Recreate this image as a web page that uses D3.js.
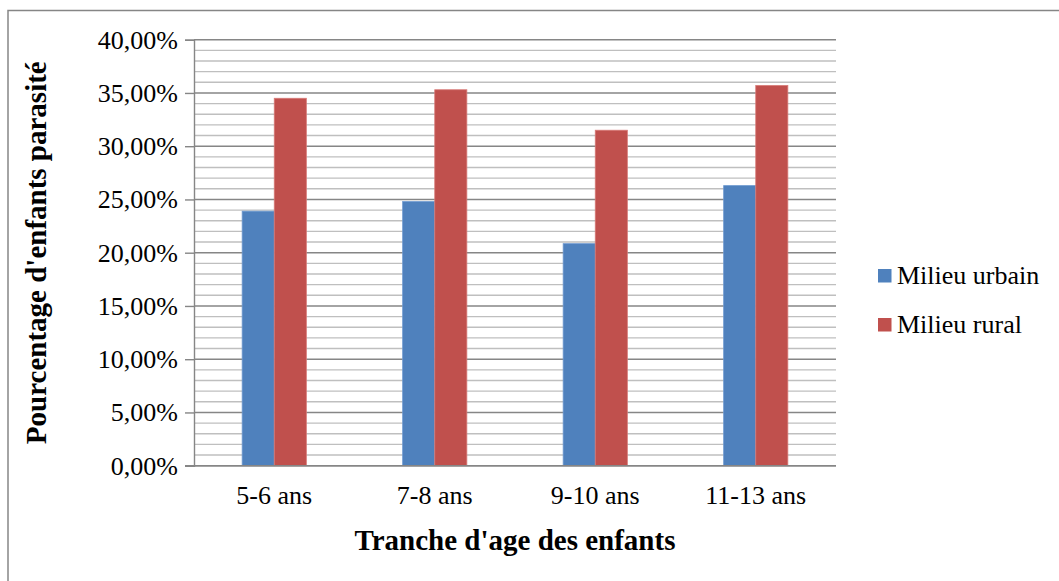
<!DOCTYPE html>
<html>
<head>
<meta charset="utf-8">
<script src="https://cdn.jsdelivr.net/npm/d3@7"></script>
<style>
  html, body { margin: 0; padding: 0; background: #fff; }
  svg { display: block; }
  svg text { font-family: "Liberation Serif", "Times New Roman", serif; }
</style>
</head>
<body>
<svg id="chart" width="1059" height="581"></svg>
<script>
// Age groups and infestation rates (%) by setting
const categories = ["5-6 ans", "7-8 ans", "9-10 ans", "11-13 ans"];
const seriesNames = ["Milieu urbain", "Milieu rural"];
const urbainValues = [23.9, 24.8, 20.85, 26.3];
const ruralValues = [34.5, 35.3, 31.5, 35.7];
const yTicks = [0, 5, 10, 15, 20, 25, 30, 35, 40];
const colors = ["#4F81BD", "#C0504D"];
const strokeColors = ["#6F9AD0", "#D87A77"];

const svg = d3.select("#chart");
const font = "Liberation Serif, Times New Roman, serif";

// Outer chart frame
svg.append("rect")
  .attr("x", 8).attr("y", 10.5)
  .attr("width", 1100).attr("height", 700)
  .attr("fill", "none").attr("stroke", "#868686").attr("stroke-width", 1.5);

const plot = { left: 194, right: 836, top: 39.7, bottom: 465.7 };

const y = d3.scaleLinear().domain([0, 40]).range([plot.bottom, plot.top]);
const x0 = d3.scaleBand().domain(categories).range([plot.left, plot.right]).paddingInner(0).paddingOuter(0);
const x1 = d3.scaleBand().domain(seriesNames).range([0, x0.bandwidth()]).paddingInner(0).paddingOuter(1.5);

// Minor gridlines every 1%
const minor = d3.range(1, 40).filter(v => v % 5 !== 0);
svg.append("g").selectAll("line").data(minor).join("line")
  .attr("x1", plot.left).attr("x2", plot.right)
  .attr("y1", d => y(d)).attr("y2", d => y(d))
  .attr("stroke", "#BFBFBF").attr("stroke-width", 1.4);

// Major gridlines every 5%
svg.append("g").selectAll("line").data(yTicks).join("line")
  .attr("x1", plot.left).attr("x2", plot.right)
  .attr("y1", d => y(d)).attr("y2", d => y(d))
  .attr("stroke", "#868686").attr("stroke-width", 1.4);

// Bars
const data = categories.map((c, i) => ({ cat: c, vals: [urbainValues[i], ruralValues[i]] }));
const groups = svg.append("g").selectAll("g").data(data).join("g")
  .attr("transform", d => `translate(${x0(d.cat)},0)`);
groups.selectAll("rect").data(d => d.vals.map((v, j) => ({ name: seriesNames[j], v, j })))
  .join("rect")
  .attr("x", d => x1(d.name))
  .attr("width", x1.bandwidth())
  .attr("y", d => y(d.v))
  .attr("height", d => y(0) - y(d.v))
  .attr("fill", d => colors[d.j])
  .attr("stroke", d => strokeColors[d.j])
  .attr("stroke-width", 0.8);

// Y axis
const yAxis = d3.axisLeft(y).tickValues(yTicks).tickSize(9).tickPadding(7)
  .tickFormat(d => d3.format(".2f")(d).replace(".", ",") + "%");
const yg = svg.append("g").attr("transform", `translate(${plot.left},0)`).call(yAxis)
  .attr("font-family", font).attr("font-size", 26);
yg.select(".domain").attr("stroke", "#868686").attr("stroke-width", 1.4);
yg.selectAll(".tick line").attr("stroke", "#868686").attr("stroke-width", 1.4);
yg.selectAll(".tick text").attr("fill", "#000");

// X axis
svg.append("line")
  .attr("x1", plot.left - 9).attr("x2", plot.right)
  .attr("y1", y(0)).attr("y2", y(0))
  .attr("stroke", "#868686").attr("stroke-width", 1.4);
const xAxis = d3.axisBottom(x0).tickSize(0).tickPadding(20);
const xg = svg.append("g").attr("transform", `translate(0,${y(0)})`).call(xAxis)
  .attr("font-family", font).attr("font-size", 26);
xg.select(".domain").remove();
xg.selectAll(".tick text").attr("fill", "#000");

// Axis titles
svg.append("text")
  .attr("x", (plot.left + plot.right) / 2).attr("y", 550)
  .attr("text-anchor", "middle")
  .attr("font-size", 29).attr("font-weight", "bold")
  .text("Tranche d'age des enfants");
svg.append("text")
  .attr("transform", `translate(46,${(plot.top + plot.bottom) / 2}) rotate(-90)`)
  .attr("text-anchor", "middle")
  .attr("font-size", 29).attr("font-weight", "bold")
  .text("Pourcentage d'enfants parasité");

// Legend
const legend = svg.append("g").attr("transform", "translate(878,269)");
const items = legend.selectAll("g").data(seriesNames).join("g")
  .attr("transform", (d, i) => `translate(0,${i * 49})`);
items.append("rect").attr("width", 13.5).attr("height", 13.5)
  .attr("fill", (d, i) => colors[i]);
items.append("text").attr("x", 19).attr("y", 15)
  .attr("font-size", 26).attr("fill", "#000")
  .text(d => d);
</script>
</body>
</html>
